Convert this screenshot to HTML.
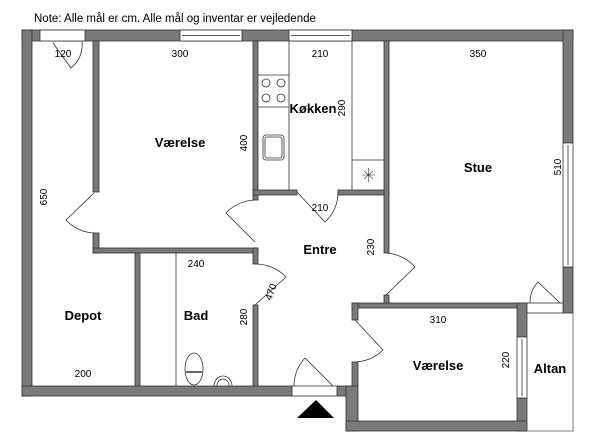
<!DOCTYPE html>
<html><head><meta charset="utf-8"><style>
html,body{margin:0;padding:0;background:#fff;width:600px;height:441px;overflow:hidden}
svg{display:block}
text{font-family:"Liberation Sans",sans-serif;fill:#000}
.b{font-weight:bold;font-size:13px}
.d{font-size:10px}
</style></head><body>
<svg width="600" height="441" viewBox="0 0 600 441">
<text x="34" y="22" font-size="11.5">Note: Alle mål er cm. Alle mål og inventar er vejledende</text>
<g fill="#7a7a7a" stroke="#333" stroke-width="0.8">
<!-- outer top wall -->
<rect x="22" y="30" width="551" height="11"/>
<!-- left wall -->
<rect x="22" y="30" width="10" height="366"/>
<!-- right wall upper -->
<rect x="563" y="30" width="10" height="113"/>
<rect x="563" y="267" width="10" height="46"/>
<!-- bottom main wall -->
<rect x="22" y="386" width="270" height="10"/>
<rect x="337" y="386" width="15" height="10"/>
<!-- depot/hall wall -->
<rect x="93" y="41" width="6" height="151"/>
<rect x="93" y="233" width="6" height="20"/>
<rect x="93" y="248" width="165" height="5"/>
<rect x="135" y="253" width="5" height="133"/>
<!-- bad right wall -->
<rect x="253" y="248" width="5" height="16"/>
<rect x="253" y="305" width="5" height="81"/>
<!-- værelse1 right wall -->
<rect x="253" y="41" width="5" height="159"/>
<!-- kitchen bottom wall -->
<rect x="253" y="190" width="44" height="5"/>
<rect x="338" y="190" width="51" height="5"/>
<!-- stue left wall -->
<rect x="384" y="41" width="5" height="212"/>
<rect x="384" y="295" width="5" height="8"/>
<!-- værelse2 -->
<rect x="352" y="303" width="175" height="5"/>
<rect x="517" y="303" width="10" height="34"/>
<rect x="517" y="398" width="10" height="33"/>
<rect x="352" y="303" width="6" height="17"/>
<rect x="352" y="362" width="6" height="24"/>
<rect x="346" y="386" width="12" height="45"/>
<rect x="346" y="421" width="181" height="10"/>
</g>
<!-- windows -->
<g fill="#fff" stroke="#333" stroke-width="0.8">
<rect x="40" y="30" width="45" height="11"/>
<rect x="180" y="30" width="62" height="11"/><line x1="182" y1="35.5" x2="240" y2="35.5"/>
<rect x="289" y="30" width="63" height="11"/><line x1="291" y1="35.5" x2="350" y2="35.5"/>
<rect x="563" y="143" width="10" height="124"/><line x1="568" y1="145" x2="568" y2="265"/>
<rect x="517" y="337" width="10" height="61"/><line x1="522" y1="339" x2="522" y2="396"/>
<rect x="292" y="386" width="45" height="10"/>
<rect x="527" y="303" width="36" height="10"/>
</g>
<!-- altan outline -->
<polyline points="527,313 527,431 573,431 573,313" fill="none" stroke="#555" stroke-width="0.8"/>
<!-- doors -->
<g fill="none" stroke="#333" stroke-width="0.8">
<path d="M53,43 L71,68 A30,30 0 0 0 82,41"/>
<path d="M94,193 L66,220 A40,40 0 0 0 95,233"/>
<path d="M255,200 A42,42 0 0 0 226,213 L255,242"/>
<path d="M297,192 L325,222 A40,40 0 0 0 338,192"/>
<path d="M255,264 A42,42 0 0 1 286,277 L255,305"/>
<path d="M386,253 A42,42 0 0 1 415,267 L386,295"/>
<path d="M355,320 L383,350 A42,42 0 0 1 355,362"/>
<path d="M530,303 A30,30 0 0 1 538,282 L560,303"/>
<path d="M294,386 A42,42 0 0 1 305,358 L333,386"/>
<!-- kitchen -->
<line x1="289" y1="41" x2="289" y2="190"/>
<line x1="352" y1="41" x2="352" y2="190"/>
<line x1="258" y1="75" x2="289" y2="75"/>
<line x1="258" y1="107" x2="289" y2="107"/>
<line x1="352" y1="160" x2="384" y2="160"/>
<circle cx="266" cy="83" r="4"/><circle cx="281" cy="83" r="4"/>
<circle cx="266" cy="98" r="4"/><circle cx="281" cy="98" r="4"/>
<rect x="263" y="135" width="21" height="25" rx="3"/>
<rect x="265" y="137" width="17" height="21" rx="2"/>
<path d="M362,175 h13 M368.5,168 v14 M364,171 l9,8 M373,171 l-9,8" stroke-width="0.6"/>
<!-- bath -->
<line x1="176" y1="253" x2="176" y2="386"/>
<ellipse cx="194" cy="369" rx="9" ry="16"/>
<line x1="186" y1="372" x2="202" y2="372" stroke-width="1.5"/>
<path d="M214,386 A9,10 0 0 1 232,386"/>
<path d="M217,386 A6,7 0 0 1 229,386"/>
</g>
<polygon points="297,418 316,400 334,418" fill="#000"/>
<!-- labels -->
<text class="b" x="180" y="147" text-anchor="middle">Værelse</text>
<text class="b" x="313" y="113" text-anchor="middle">Køkken</text>
<text class="b" x="478" y="172" text-anchor="middle">Stue</text>
<text class="b" x="320" y="254" text-anchor="middle">Entre</text>
<text class="b" x="83" y="320" text-anchor="middle">Depot</text>
<text class="b" x="196" y="320" text-anchor="middle">Bad</text>
<text class="b" x="438" y="370" text-anchor="middle">Værelse</text>
<text class="b" x="550" y="373" text-anchor="middle">Altan</text>
<g class="d">
<text class="d" x="63" y="57" text-anchor="middle">120</text>
<text class="d" x="180" y="57" text-anchor="middle">300</text>
<text class="d" x="320" y="57" text-anchor="middle">210</text>
<text class="d" x="478" y="57" text-anchor="middle">350</text>
<text class="d" x="320" y="211" text-anchor="middle">210</text>
<text class="d" x="196" y="267" text-anchor="middle">240</text>
<text class="d" x="83" y="377" text-anchor="middle">200</text>
<text class="d" x="438" y="323" text-anchor="middle">310</text>
<text class="d" transform="translate(247,143) rotate(-90)" text-anchor="middle">400</text>
<text class="d" transform="translate(345,108) rotate(-90)" text-anchor="middle">290</text>
<text class="d" transform="translate(561,167) rotate(-90)" text-anchor="middle">510</text>
<text class="d" transform="translate(47,197) rotate(-90)" text-anchor="middle">650</text>
<text class="d" transform="translate(374,247) rotate(-90)" text-anchor="middle">230</text>
<text class="d" transform="translate(274,293) rotate(-70)" text-anchor="middle">470</text>
<text class="d" transform="translate(247,317) rotate(-90)" text-anchor="middle">280</text>
<text class="d" transform="translate(509,360) rotate(-90)" text-anchor="middle">220</text>
</g>
</svg>
</body></html>
